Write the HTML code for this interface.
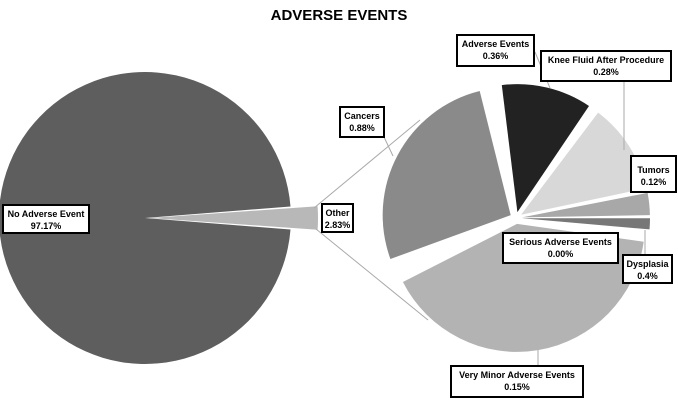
<!DOCTYPE html>
<html><head><meta charset="utf-8"><style>
body{margin:0;background:#fff;width:678px;height:401px;overflow:hidden;position:relative;font-family:"Liberation Sans",sans-serif}
.t{position:absolute;left:0;width:678px;top:7px;text-align:center;font-weight:bold;font-size:15px}
.b{position:absolute;background:#fff;border:2px solid #000;font-size:9px;font-weight:bold;text-align:center;line-height:12px;box-sizing:border-box;padding-top:2px;white-space:nowrap}
</style></head><body>
<svg id="s" width="678" height="401" style="position:absolute;left:0;top:0">
<g stroke="#aaa" stroke-width="1" fill="none">
<line x1="314" y1="208" x2="420" y2="120"/>
<line x1="316" y1="229" x2="428" y2="320"/>
<line x1="384" y1="137" x2="393" y2="156"/>
<line x1="535" y1="52" x2="550" y2="88"/>
<line x1="624" y1="82" x2="624" y2="150"/>
<line x1="645" y1="230" x2="645" y2="255"/>
<line x1="538" y1="350" x2="538" y2="366"/>
</g>
</svg>
<div class="t">ADVERSE EVENTS</div>
<div class="b" style="left:2px;top:204px;width:88px;height:30px">No Adverse Event<br>97.17%</div>
<div class="b" style="left:321px;top:203px;width:33px;height:30px">Other<br>2.83%</div>
<div class="b" style="left:339px;top:106px;width:46px;height:32px">Cancers<br>0.88%</div>
<div class="b" style="left:456px;top:34px;width:79px;height:33px">Adverse Events<br>0.36%</div>
<div class="b" style="left:540px;top:50px;width:132px;height:32px">Knee Fluid After Procedure<br>0.28%</div>
<div class="b" style="left:630px;top:155px;width:47px;height:38px;padding-top:7px">Tumors<br>0.12%</div>
<div class="b" style="left:502px;top:232px;width:117px;height:32px">Serious Adverse Events<br>0.00%</div>
<div class="b" style="left:622px;top:254px;width:51px;height:30px">Dysplasia<br>0.4%</div>
<div class="b" style="left:450px;top:365px;width:134px;height:33px">Very Minor Adverse Events<br>0.15%</div>
<script>
var s=document.getElementById('s'),ns='http://www.w3.org/2000/svg';
function sl(cx,cy,r,a0,a1,off,col){var m=(a0+a1)/2*Math.PI/180;cx+=off*Math.cos(m);cy+=off*Math.sin(m);
var p=function(a){a=a*Math.PI/180;return (cx+r*Math.cos(a)).toFixed(1)+','+(cy+r*Math.sin(a)).toFixed(1)};
var d='M'+cx+','+cy+'L'+p(a0)+'A'+r+','+r+' 0 '+((a1-a0)>180?1:0)+' 1 '+p(a1)+'Z';
var e=document.createElementNS(ns,'path');e.setAttribute('d',d);e.setAttribute('fill',col);s.insertBefore(e,s.firstChild);}
sl(145,218,146,4.5,355.5,0,'#5e5e5e');
sl(150,218,168,-4,4,0,'#b8b8b8');
sl(516,218,128,160,256,6,'#8a8a8a');
sl(516,218,128,263,304,6,'#222');
sl(516,218,128,307,348,6,'#d8d8d8');
sl(516,218,128,349,359,6,'#a8a8a8');
sl(516,218,128,360,365,6,'#777');
sl(516,218,128,8,153,6,'#b3b3b3');
</script>
</body></html>
